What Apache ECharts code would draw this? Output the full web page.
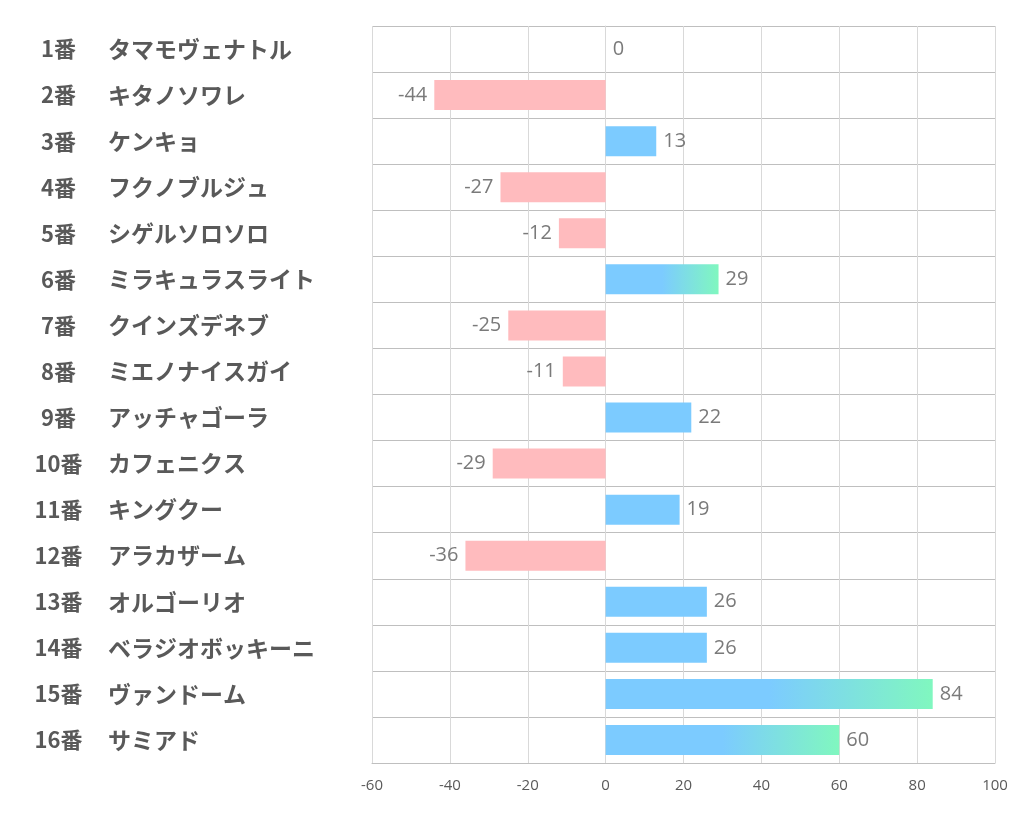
<!DOCTYPE html>
<html><head><meta charset="utf-8">
<script src="https://cdn.jsdelivr.net/npm/echarts@6/dist/echarts.min.js"></script>
<style>html,body{margin:0;padding:0;background:#fff}#c{width:1022px;height:834px}</style>
</head><body><div id="c"></div>
<script>
const numbers = ['1番','2番','3番','4番','5番','6番','7番','8番','9番','10番','11番','12番','13番','14番','15番','16番'];
const names = ['タマモヴェナトル','キタノソワレ','ケンキョ','フクノブルジュ','シゲルソロソロ','ミラキュラスライト','クインズデネブ','ミエノナイスガイ','アッチャゴーラ','カフェニクス','キングクー','アラカザーム','オルゴーリオ','ベラジオボッキーニ','ヴァンドーム','サミアド'];
const values = [0,-44,13,-27,-12,29,-25,-11,22,-29,19,-36,26,26,84,60];
const xTicks = [-60,-40,-20,0,20,40,60,80,100];

const categories = numbers.map((n,i)=>n+'|'+names[i]);
const top3 = values.slice().sort((a,b)=>b-a).slice(0,3);
const PINK='#ffbbbe', BLUE='#7ccbff', GREEN='#80f7bf';
const data = values.map(v=>{
  let color;
  if (v < 0) color = PINK;
  else if (top3.includes(v) && v > 26) color = new echarts.graphic.LinearGradient(0,0,1,0,[{offset:0,color:BLUE},{offset:0.5,color:BLUE},{offset:1,color:GREEN}]);
  else color = BLUE;
  return {value:v, itemStyle:{color}, label:{position: v<0?'left':'right'}};
});

const chart = echarts.init(document.getElementById('c'));
chart.setOption({
  animation:false,
  grid:{left:372,right:27,top:26,bottom:71,containLabel:false},
  xAxis:{type:'value',min:xTicks[0],max:xTicks[xTicks.length-1],interval:20,
    axisLine:{show:true,lineStyle:{color:'#bfbfbf'}},axisTick:{show:false},
    axisLabel:{color:'#595959',fontSize:15,margin:15,fontFamily:'Open Sans, sans-serif'},
    splitLine:{show:true,lineStyle:{color:'#d9d9d9'}}},
  yAxis:{type:'category',data:categories,inverse:true,
    axisLine:{show:true,lineStyle:{color:'#d9d9d9'}},axisTick:{show:false},
    splitLine:{show:true,lineStyle:{color:'#bfbfbf'}},
    axisLabel:{align:'left',margin:352,
      formatter:function(s){const p=s.split('|');return '{a|'+p[0]+'}{b|'+p[1]+'}';},
      rich:{
        a:{width:77,align:'right',fontSize:22,fontWeight:'bold',color:'#595959',fontFamily:'Noto Sans CJK JP'},
        b:{padding:[0,0,0,11],fontSize:23,fontWeight:'bold',color:'#595959',fontFamily:'Noto Sans CJK JP'}
      }}},
  series:[{type:'bar',data:data,barWidth:30,
    label:{show:true,color:'#7a7a7a',fontSize:20,distance:7,fontFamily:'Open Sans, sans-serif'}}]
});
</script></body></html>
